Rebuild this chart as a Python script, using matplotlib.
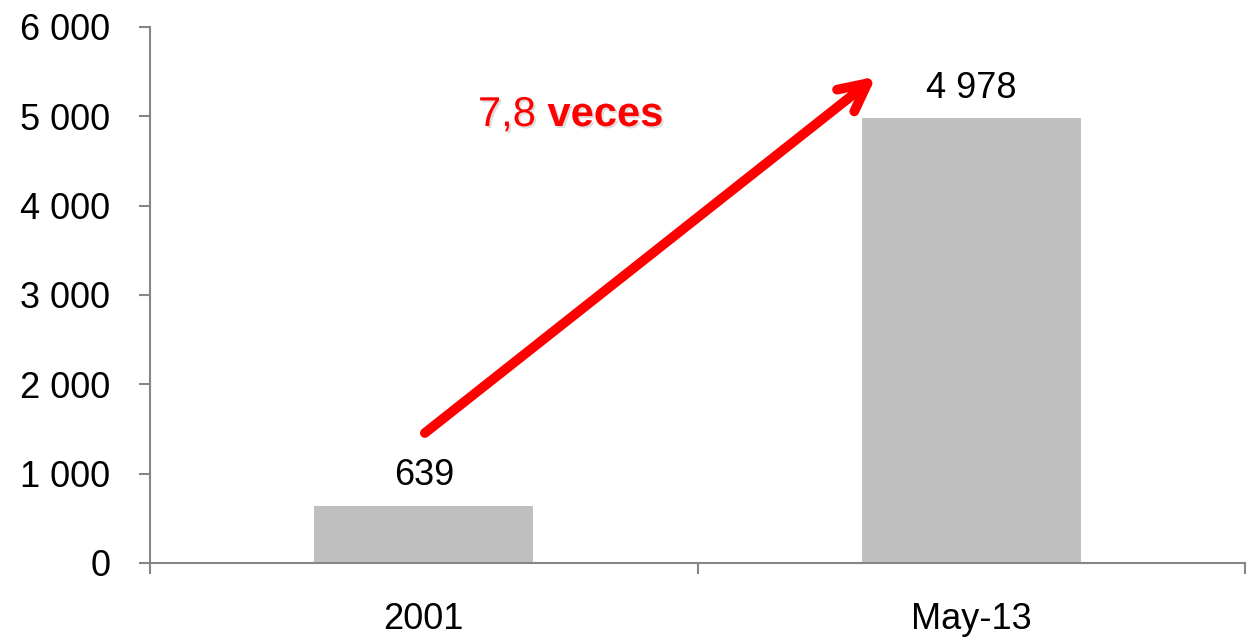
import matplotlib
matplotlib.use("Agg")
import matplotlib.pyplot as plt
import matplotlib.patheffects as pe

categories = ["2001", "May-13"]
values = [639, 4978]
value_labels = ["639", "4 978"]
yticks = [0, 1000, 2000, 3000, 4000, 5000, 6000]
ytick_labels = ["0", "1 000", "2 000", "3 000", "4 000", "5 000", "6 000"]

plt.rcParams['font.family'] = ['Liberation Sans', 'DejaVu Sans']

fig = plt.figure(figsize=(12.49, 6.42), dpi=100)
ax = fig.add_axes([150/1249, 1 - 563/642, (1245-150)/1249, (563-27)/642])

x = list(range(len(categories)))
ax.bar(x, values, width=0.4, color="#bfbfbf", zorder=2)
for xi, v, lab in zip(x, values, value_labels):
    ax.text(xi, v + 140, lab, ha="center", va="bottom", fontsize=26, color="black")

ax.set_xlim(-0.5, 1.5)
ax.set_ylim(0, 6000)
ax.set_yticks(yticks)
ax.set_yticklabels(ytick_labels, fontsize=26)
ax.set_xticks(x)
ax.set_xticklabels(categories, fontsize=26)
ax.tick_params(axis="x", length=0, pad=28)
ax.set_xticks([-0.5, 0.5, 1.5], minor=True)
ax.tick_params(axis="x", which="minor", length=8, direction="out", color="#868686", width=1.5)
ax.tick_params(axis="y", length=8, direction="out", color="#868686", width=1.5, pad=20.5)

for s in ["top", "right"]:
    ax.spines[s].set_visible(False)
for s in ["left", "bottom"]:
    ax.spines[s].set_color("#868686")
    ax.spines[s].set_linewidth(1.5)

ax.annotate("", xy=(0.826, 5445), xytext=(0.002, 1455),
            arrowprops=dict(arrowstyle="->,head_length=2.0,head_width=1.0",
                            color="#ff0000", lw=7, shrinkA=0, shrinkB=0,
                            capstyle="round", joinstyle="round"), zorder=5)

shadow = [pe.SimplePatchShadow(offset=(1.5, -1.5), shadow_rgbFace="#a0a0a0", alpha=0.35), pe.Normal()]
t1 = ax.text(0.099, 5015, "7,8 ", color="#ff0000", fontsize=30, va="center", ha="left",
             path_effects=shadow)
fig.canvas.draw()
bb = t1.get_window_extent()
inv = ax.transData.inverted()
x2 = inv.transform((bb.x1, bb.y0))[0]
ax.text(x2, 5015, "veces", color="#ff0000", fontsize=30, fontweight="bold", va="center", ha="left",
        path_effects=shadow)

fig.savefig("out.png", dpi=100)
